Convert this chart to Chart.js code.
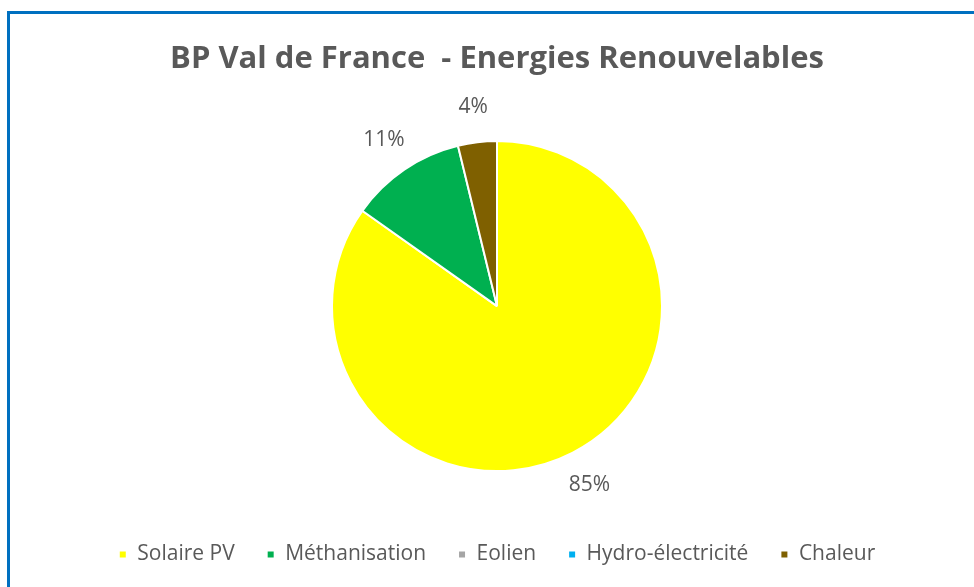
<!DOCTYPE html>
<html>
<head>
<meta charset="utf-8">
<script src="https://cdn.jsdelivr.net/npm/chart.js@4.4.1/dist/chart.umd.min.js"></script>
<style>
    html, body { margin: 0; padding: 0; background: #fff; overflow: hidden; }
    #frame {
        position: absolute; left: 7px; top: 11px; width: 1000px; height: 600px;
        border-left: 3px solid #0070C0; border-top: 3px solid #0070C0;
    }
    #wrap { position: absolute; left: 0; top: 0; width: 974px; height: 587px; }
</style>
</head>
<body>
<div id="frame"></div>
<div id="wrap"><canvas id="pieChart"></canvas></div>
<script>
const chartTitle = 'BP Val de France  - Energies Renouvelables';
const categories = ['Solaire PV', 'Méthanisation', 'Eolien', 'Hydro-électricité', 'Chaleur'];
const shares = [84.8, 11.4, 0, 0, 3.8];
const sliceColors = ['#FFFF00', '#00B050', '#A5A5A5', '#00B0F0', '#7F6000'];

const textColor = '#595959';
const fontFamily = '"Open Sans", sans-serif';

// percentage labels placed just outside each slice
const outsideLabels = {
    id: 'outsideLabels',
    afterDatasetsDraw(chart) {
        const ctx = chart.ctx;
        const meta = chart.getDatasetMeta(0);
        const total = shares.reduce((a, b) => a + b, 0);
        ctx.save();
        ctx.font = '21px ' + fontFamily;
        ctx.fillStyle = textColor;
        ctx.textAlign = 'center';
        ctx.textBaseline = 'middle';
        meta.data.forEach((arc, i) => {
            if (!shares[i]) return;
            const mid = (arc.startAngle + arc.endAngle) / 2;
            const dist = arc.outerRadius + 36;
            const x = arc.x + Math.cos(mid) * dist;
            const y = arc.y + Math.sin(mid) * dist;
            ctx.fillText(Math.round(shares[i] / total * 100) + '%', x, y);
        });
        ctx.restore();
    }
};

new Chart(document.getElementById('pieChart').getContext('2d'), {
    type: 'pie',
    data: {
        labels: categories,
        datasets: [{
            data: shares,
            backgroundColor: sliceColors,
            borderColor: '#ffffff',
            borderWidth: 2
        }]
    },
    options: {
        responsive: true,
        maintainAspectRatio: false,
        animation: false,
        radius: 165,
        layout: { padding: { left: 30, right: 10, top: 0, bottom: 12 } },
        plugins: {
            title: {
                display: true,
                text: chartTitle,
                color: textColor,
                font: { family: fontFamily, size: 31, weight: 'bold' },
                padding: { top: 41, bottom: 22 }
            },
            legend: {
                position: 'bottom',
                labels: {
                    color: textColor,
                    font: { family: fontFamily, size: 21 },
                    boxWidth: 8,
                    boxHeight: 8,
                    padding: 32
                }
            },
            tooltip: { enabled: false }
        }
    },
    plugins: [outsideLabels]
});
</script>
</body>
</html>
